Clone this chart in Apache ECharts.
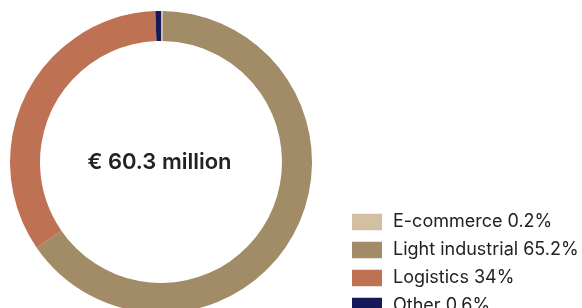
<!DOCTYPE html>
<html>
<head>
<meta charset="utf-8">
<script src="https://cdn.jsdelivr.net/npm/echarts@6/dist/echarts.min.js"></script>
<style>
html,body{margin:0;padding:0;background:#fff;}
#chart{width:582px;height:308px;}
</style>
</head>
<body>
<div id="chart"></div>
<script>
var categories = ['E-commerce', 'Light industrial', 'Logistics', 'Other'];
var values = [0.2, 65.2, 34, 0.6];
var labels = ['E-commerce 0.2%', 'Light industrial 65.2%', 'Logistics 34%', 'Other 0.6%'];
var colors = ['#d3c0a2', '#a18c67', '#bf7153', '#151959'];
var centerText = '€ 60.3 million';

var chart = echarts.init(document.getElementById('chart'), null, {renderer: 'canvas'});
var data = categories.map(function (c, i) {
  return {name: c, value: values[i], itemStyle: {color: colors[i]}};
});
chart.setOption({
  animation: false,
  legend: {
    orient: 'vertical',
    left: 347,
    top: 208,
    height: 200,
    itemWidth: 30,
    itemHeight: 16.5,
    itemGap: 10,
    icon: 'rect',
    selectedMode: false,
    formatter: function (name) { return labels[categories.indexOf(name)]; },
    textStyle: {
      fontFamily: 'Inter, "Liberation Sans", sans-serif',
      fontSize: 18,
      color: '#222',
      padding: [0, 0, 0, 6]
    }
  },
  graphic: [{
    type: 'text',
    x: 159.5,
    y: 162,
    style: {
      text: centerText,
      fontFamily: 'Inter, "Liberation Sans", sans-serif',
      fontSize: 22,
      fontWeight: 600,
      fill: '#222',
      align: 'center',
      verticalAlign: 'middle'
    }
  }],
  series: [{
    type: 'pie',
    center: [161, 162],
    radius: [121, 151],
    startAngle: 90,
    clockwise: true,
    label: {show: false},
    labelLine: {show: false},
    emphasis: {disabled: true},
    data: data
  }]
});
</script>
</body>
</html>
